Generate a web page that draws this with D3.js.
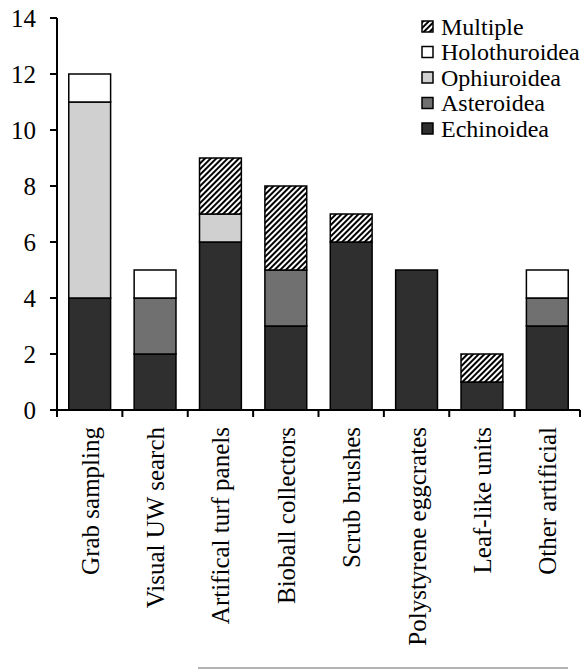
<!DOCTYPE html>
<html>
<head>
<meta charset="utf-8">
<script src="https://cdn.jsdelivr.net/npm/d3@7"></script>
<style>
  @font-face { font-family: "ChartSerif"; src: local("Liberation Serif"), local("LiberationSerif"), local("Times New Roman"); }
</style>
</head>
<body style="margin:0">
<svg id="chart" width="585" height="669" font-family="ChartSerif, Liberation Serif, Times New Roman, serif"></svg>
<script>
//------------------------------------------------------------------------------
//Data
//------------------------------------------------------------------------------
let methods = ["Grab sampling", "Visual UW search", "Artifical turf panels", "Bioball collectors",
               "Scrub brushes", "Polystyrene eggcrates", "Leaf-like units", "Other artificial"];
let groups = ["Echinoidea", "Asteroidea", "Ophiuroidea", "Holothuroidea", "Multiple"];

let echinoidea    = [4, 2, 6, 3, 6, 5, 1, 3];
let asteroidea    = [0, 2, 0, 2, 0, 0, 0, 1];
let ophiuroidea   = [7, 0, 1, 0, 0, 0, 0, 0];
let holothuroidea = [1, 1, 0, 0, 0, 0, 0, 1];
let multiple      = [0, 0, 2, 3, 1, 0, 1, 0];

let yTicks = [0, 2, 4, 6, 8, 10, 12, 14];

let FONT = "Liberation Serif, Times New Roman, serif";

main()

//------------------------------------------------------------------------------
//Main
//------------------------------------------------------------------------------
function main()
{
    let series = [echinoidea, asteroidea, ophiuroidea, holothuroidea, multiple];
    let rows = methods.map((m, i) => {
        let r = {method: m};
        groups.forEach((g, j) => r[g] = series[j][i]);
        return r;
    });
    stackedBars(rows)
}

function stackedBars(rows)
{
    var svg = d3.select("#chart");
    var left = 57, right = 580, top = 18, bottom = 410;

    // hatch for "Multiple"
    var pat = svg.append("defs").append("pattern")
        .attr("id", "hatch")
        .attr("patternUnits", "userSpaceOnUse")
        .attr("width", 4).attr("height", 4)
        .attr("patternTransform", "rotate(45)");
    pat.append("rect").attr("width", 4).attr("height", 4).attr("fill", "#fff");
    pat.append("line").attr("x1", 1).attr("y1", 0).attr("x2", 1).attr("y2", 4)
        .attr("stroke", "#000").attr("stroke-width", 2);

    var x = d3.scaleBand().domain(methods).range([left, right])
        .paddingInner(0.36).paddingOuter(0.18);
    var y = d3.scaleLinear().domain([0, 14]).range([bottom, top]);

    var color = d3.scaleOrdinal(groups, ["#2f2f2f", "#707070", "#d0d0d0", "#ffffff", "url(#hatch)"]);

    var stack = d3.stack().keys(groups)(rows);

    svg.append("g").selectAll("g")
        .data(stack)
        .enter().append("g")
        .attr("fill", d => color(d.key))
        .selectAll("rect")
        .data(d => d.filter(p => p[1] > p[0]))
        .enter().append("rect")
        .attr("x", d => x(d.data.method))
        .attr("y", d => y(d[1]))
        .attr("width", x.bandwidth())
        .attr("height", d => y(d[0]) - y(d[1]))
        .attr("stroke", "#000")
        .attr("stroke-width", 1.5);

    // y axis (built by hand so no sans-serif default sneaks in)
    var yAxis = svg.append("g");
    yAxis.append("line").attr("x1", left).attr("x2", left).attr("y1", top).attr("y2", bottom + 7)
        .attr("stroke", "#000").attr("stroke-width", 2);
    var yt = yAxis.selectAll(".tick").data(yTicks).enter().append("g")
        .attr("transform", d => "translate(0," + y(d) + ")");
    yt.append("line").attr("x1", left - 7).attr("x2", left)
        .attr("stroke", "#000").attr("stroke-width", 2);
    yt.append("text")
        .attr("x", left - 21).attr("dy", "0.34em")
        .attr("text-anchor", "end")
        .attr("font-family", FONT).attr("font-size", 25)
        .text(d => d);

    // x axis line and boundary ticks
    var step = x.step();
    var xg = svg.append("g");
    xg.append("line").attr("x1", left - 7).attr("x2", right).attr("y1", bottom).attr("y2", bottom)
        .attr("stroke", "#000").attr("stroke-width", 2);
    xg.selectAll(".bt")
        .data(d3.range(methods.length + 1))
        .enter().append("line")
        .attr("x1", i => left + i * step).attr("x2", i => left + i * step)
        .attr("y1", bottom).attr("y2", bottom + 7)
        .attr("stroke", "#000").attr("stroke-width", 2);
    xg.selectAll(".lbl")
        .data(methods)
        .enter().append("text")
        .attr("transform", d => "translate(" + (x(d) + x.bandwidth() / 2 + 9) + "," + (bottom + 17) + ") rotate(-90)")
        .attr("text-anchor", "end")
        .attr("font-family", FONT).attr("font-size", 25)
        .text(d => d);

    // legend
    var legendOrder = groups.slice().reverse();
    var lg = svg.append("g")
        .selectAll("g")
        .data(legendOrder)
        .enter().append("g")
        .attr("transform", (d, i) => "translate(422," + (21 + i * 25.5) + ")");
    lg.append("rect").attr("width", 11).attr("height", 11)
        .attr("fill", d => color(d)).attr("stroke", "#000").attr("stroke-width", 1.5);
    lg.append("text").attr("x", 19).attr("y", 5.5).attr("dy", "0.35em")
        .attr("font-family", FONT).attr("font-size", 24)
        .text(d => d);

    // faint rule at the bottom
    svg.append("line").attr("x1", 198).attr("x2", 568).attr("y1", 668).attr("y2", 668)
        .attr("stroke", "#666").attr("stroke-width", 1);
}
</script>
</body>
</html>
